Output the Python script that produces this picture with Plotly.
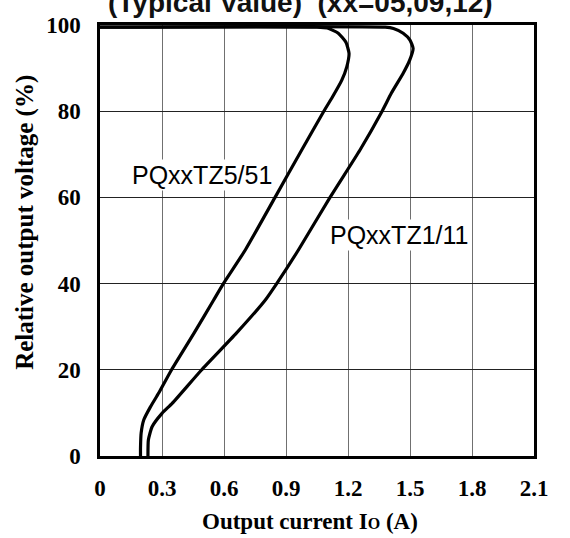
import plotly.graph_objects as go

# Output current (A) and relative output voltage (%)
tz5_current = [0.0, 1.05, 1.10, 1.153, 1.19, 1.205, 1.194, 1.17, 1.126, 1.083,
               0.976, 0.847, 0.703, 0.597, 0.55, 0.455, 0.345, 0.284, 0.244, 0.212,
               0.199, 0.196, 0.196]
tz5_voltage = [99.5, 99.5, 99.3, 98.1, 96.0, 93.4, 90.3, 87.2, 83.4, 80.0,
               71.0, 60.0, 47.8, 40.0, 36.2, 28.5, 19.9, 14.6, 11.4, 8.4,
               5.3, 2.0, 0.0]

tz1_current = [0.0, 1.38, 1.42, 1.467, 1.50, 1.515, 1.499, 1.467, 1.41, 1.365,
               1.258, 1.113, 0.96, 0.855, 0.80, 0.66, 0.49, 0.349, 0.30,
               0.252, 0.234, 0.232]
tz1_voltage = [99.5, 99.5, 99.2, 98.1, 96.5, 94.6, 91.9, 88.8, 84.2, 80.0,
               71.0, 60.0, 47.8, 40.0, 36.2, 28.5, 19.9, 12.2, 9.9,
               6.8, 3.7, 0.0]

x_ticks = [0, 0.3, 0.6, 0.9, 1.2, 1.5, 1.8, 2.1]
x_tick_labels = ["0", "0.3", "0.6", "0.9", "1.2", "1.5", "1.8", "2.1"]
y_ticks = [0, 20, 40, 60, 80, 100]
y_tick_labels = ["0", "20", "40", "60", "80", "100"]

label_tz5 = "PQxxTZ5/51"
label_tz1 = "PQxxTZ1/11"
title_text = "(Typical Value)  (xx=05,09,12)"
x_title = "<b>Output current I<span style='font-size:16px'>O</span> (A)</b>"
y_title = "<b>Relative output voltage (%)</b>"

W, H = 570, 538
ML, MR, MT, MB = 99.5, 36, 24.5, 82
plot_h = H - MT - MB
plot_w = W - ML - MR


def px_x(p):
    return (p - ML) / plot_w


def px_y(p):
    return (H - MB - p) / plot_h


serif = "Liberation Serif"
sans = "Liberation Sans"

fig = go.Figure()
for xs, ys in [(tz5_current, tz5_voltage), (tz1_current, tz1_voltage)]:
    fig.add_trace(go.Scatter(
        x=xs, y=ys, mode="lines",
        line=dict(color="black", width=3.2, shape="spline", smoothing=0.5),
        showlegend=False, hoverinfo="skip", cliponaxis=False,
    ))

fig.add_annotation(x=0.495, y=65.2, xref="x", yref="y", text=label_tz5,
                   showarrow=False, bgcolor="white",
                   font=dict(family=sans, size=25, color="black"))
fig.add_annotation(x=1.446, y=51.3, xref="x", yref="y", text=label_tz1,
                   showarrow=False, bgcolor="white",
                   font=dict(family=sans, size=25, color="black"))

fig.add_annotation(x=px_x(300), y=px_y(19), xref="paper", yref="paper",
                   text="<b>" + title_text + "</b>",
                   showarrow=False, xanchor="center", yanchor="bottom",
                   font=dict(family=sans, size=28, color="#111"))

fig.add_annotation(x=px_x(310), y=px_y(522), xref="paper", yref="paper",
                   text=x_title, showarrow=False, xanchor="center", yanchor="middle",
                   font=dict(family=serif, size=23, color="black"))
fig.add_annotation(x=px_x(25), y=px_y(222), xref="paper", yref="paper",
                   text=y_title, showarrow=False, textangle=-90,
                   xanchor="center", yanchor="middle",
                   font=dict(family=serif, size=25, color="black"))

fig.update_layout(
    width=W, height=H,
    margin=dict(l=ML, r=MR, t=MT, b=MB, pad=0),
    paper_bgcolor="white", plot_bgcolor="white",
    xaxis=dict(
        range=[0, 2.1], tickvals=x_ticks, ticktext=["<b>%s</b>" % t for t in x_tick_labels],
        showgrid=True, gridcolor="#707070", gridwidth=1,
        showline=True, linecolor="black", linewidth=2.5, mirror=True,
        ticks="", ticklabelstandoff=10, zeroline=False, automargin=False,
        tickfont=dict(family=serif, size=23, color="black"),
    ),
    yaxis=dict(
        range=[0, 100], tickvals=y_ticks, ticktext=["<b>%s</b>" % t for t in y_tick_labels],
        showgrid=True, gridcolor="#222222", gridwidth=1,
        showline=True, linecolor="black", linewidth=2.5, mirror=True,
        ticks="", ticklabelstandoff=12, zeroline=False, automargin=False,
        tickfont=dict(family=serif, size=23, color="black"),
    ),
)

fig.write_html("out.html", config={"displayModeBar": False},
               post_script="document.body.style.margin='0px';document.body.style.padding='0px';")
